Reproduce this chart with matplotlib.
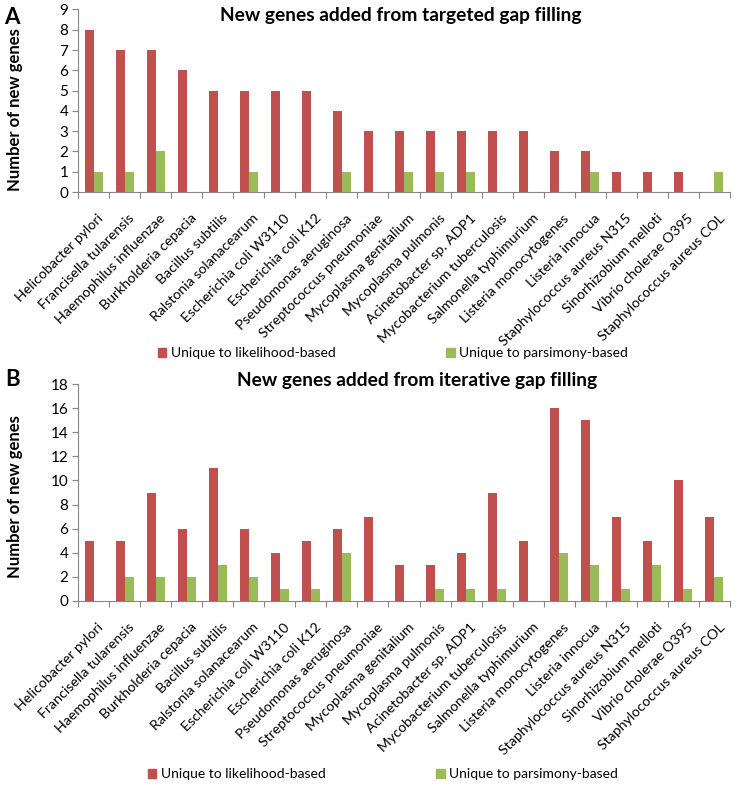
import matplotlib
matplotlib.use("Agg")
import matplotlib.pyplot as plt
import matplotlib.transforms as mtransforms
import numpy as np
from matplotlib.patches import Patch

plt.rcParams['font.family'] = ['Lato', 'DejaVu Sans']

species = ["Helicobacter pylori", "Francisella tularensis", "Haemophilus influenzae",
           "Burkholderia cepacia", "Bacillus subtilis", "Ralstonia solanacearum",
           "Escherichia coli W3110", "Escherichia coli K12", "Pseudomonas aeruginosa",
           "Streptococcus pneumoniae", "Mycoplasma genitalium", "Mycoplasma pulmonis",
           "Acinetobacter sp. ADP1", "Mycobacterium tuberculosis", "Salmonella typhimurium",
           "Listeria monocytogenes", "Listeria innocua", "Staphylococcus aureus N315",
           "Sinorhizobium melloti", "Vibrio cholerae O395", "Staphylococcus aureus COL"]

# panel A: targeted gap filling
targeted_likelihood = [8, 7, 7, 6, 5, 5, 5, 5, 4, 3, 3, 3, 3, 3, 3, 2, 2, 1, 1, 1, 0]
targeted_parsimony = [1, 1, 2, 0, 0, 1, 0, 0, 1, 0, 1, 1, 1, 0, 0, 0, 1, 0, 0, 0, 1]

# panel B: iterative gap filling
iterative_likelihood = [5, 5, 9, 6, 11, 6, 4, 5, 6, 7, 3, 3, 4, 9, 5, 16, 15, 7, 5, 10, 7]
iterative_parsimony = [0, 2, 2, 2, 3, 2, 1, 1, 4, 0, 0, 1, 1, 1, 0, 4, 3, 1, 3, 1, 2]

RED = "#C0504D"
GREEN = "#9BBB59"
AXC = "#868686"

fig = plt.figure(figsize=(7.4, 7.96), dpi=100)


def panel(rect, lik, par, ymax, ystep):
    ax = fig.add_axes(rect)
    x = np.arange(len(species))
    w = 0.29
    ax.bar(x - w / 2, lik, w, color=RED, zorder=3)
    ax.bar(x + w / 2, par, w, color=GREEN, zorder=3)
    ax.set_xlim(-0.5, len(species) - 0.5)
    ax.set_ylim(0, ymax)
    ax.set_yticks(np.arange(0, ymax + 1, ystep))
    ax.tick_params(axis='y', labelsize=11, length=4, color=AXC, pad=3)
    # category ticks between groups, labels at centres
    ax.set_xticks(np.arange(-0.5, len(species), 1.0))
    ax.set_xticklabels([])
    ax.tick_params(axis='x', length=4, color=AXC)
    # shift labels down a fixed number of pixels under the axis
    trans = ax.get_xaxis_transform() + mtransforms.ScaledTranslation(0, -20 / 100, fig.dpi_scale_trans)
    for i, name in enumerate(species):
        ax.text(i + 0.12, 0, name, rotation=45, ha='right', va='top',
                rotation_mode='anchor', fontsize=10.2,
                transform=trans, clip_on=False)
    for s in ['top', 'right']:
        ax.spines[s].set_visible(False)
    for s in ['left', 'bottom']:
        ax.spines[s].set_color(AXC)
    return ax


axA = panel([78 / 740, 1 - 192 / 796, 652 / 740, 182.5 / 796],
            targeted_likelihood, targeted_parsimony, 9, 1)
axB = panel([78 / 740, 1 - 601 / 796, 652 / 740, 217 / 796],
            iterative_likelihood, iterative_parsimony, 18, 2)

fig.text(401 / 740, 1 - 16 / 796, "New genes added from targeted gap filling",
         ha='center', va='center', fontsize=13.8, fontweight='bold')
fig.text(417 / 740, 1 - 381 / 796, "New genes added from iterative gap filling",
         ha='center', va='center', fontsize=13.8, fontweight='bold')

fig.text(12 / 740, 1 - 17 / 796, "A", ha='center', va='center', fontsize=16, fontweight='bold')
fig.text(13 / 740, 1 - 380 / 796, "B", ha='center', va='center', fontsize=16, fontweight='bold')

fig.text(15 / 740, 1 - 110 / 796, "Number of new genes", rotation=90, ha='center',
         va='center', fontsize=12, fontweight='bold')
fig.text(15 / 740, 1 - 497 / 796, "Number of new genes", rotation=90, ha='center',
         va='center', fontsize=12, fontweight='bold')

handles = [Patch(color=RED, label="Unique to likelihood-based"),
           Patch(color=GREEN, label="Unique to parsimony-based")]
for xc, yc in ((393, 353), (383, 774)):
    fig.legend(handles=handles, loc='center', bbox_to_anchor=(xc / 740, 1 - yc / 796),
               ncol=2, frameon=False, fontsize=10, handlelength=0.6, handleheight=0.6,
               handletextpad=0.3, columnspacing=8)

fig.savefig("out.png", dpi=100)
